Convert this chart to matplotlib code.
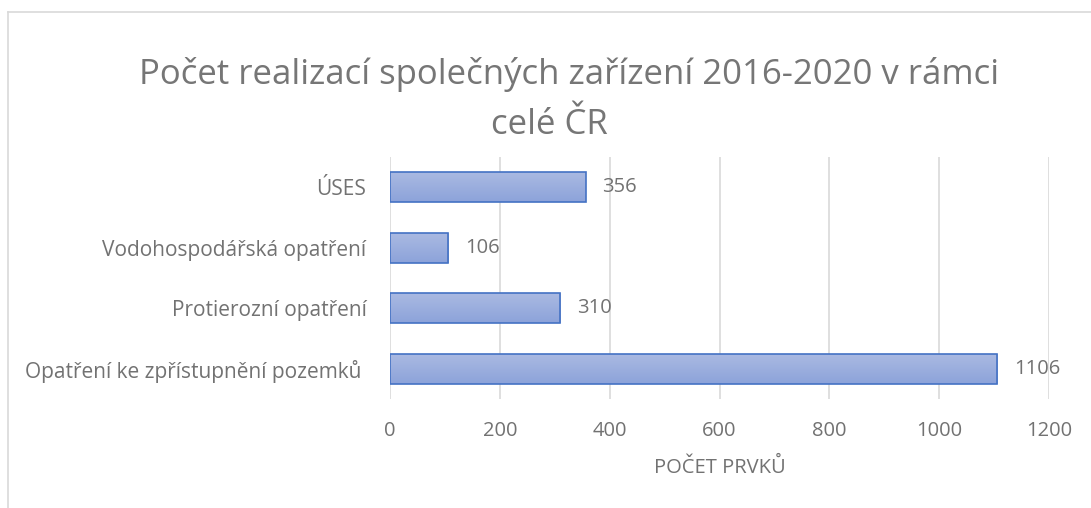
import numpy as np
import matplotlib.pyplot as plt
from matplotlib.lines import Line2D
from matplotlib.colors import LinearSegmentedColormap

plt.rcParams['font.family'] = ['Open Sans', 'DejaVu Sans']

categories = ["Opatření ke zpřístupnění pozemků ", "Protierozní opatření",
              "Vodohospodářská opatření", "ÚSES"]
values = [1106, 310, 106, 356]
xticks = [0, 200, 400, 600, 800, 1000, 1200]
title_lines = ["Počet realizací společných zařízení 2016-2020 v rámci", "celé ČR"]

text_col = "#727272"
grid_col = "#d9d9d9"

fig = plt.figure(figsize=(10.91, 5.08), dpi=100)
ax = fig.add_axes([390/1091, 1 - 399/508, 659/1091, 242/508])

y = np.arange(len(categories))
bars = ax.barh(y, values, height=0.5, color="none", edgecolor="#4472c4", linewidth=1.2, zorder=3)

# vertical gradient in each bar, lighter on top
grad = np.linspace(0, 1, 64).reshape(-1, 1)
cmap = LinearSegmentedColormap.from_list("bar", ["#8ca3da", "#abbae2"])
for b in bars:
    x0, y0 = b.get_x(), b.get_y()
    w, h = b.get_width(), b.get_height()
    im = ax.imshow(grad, extent=[x0, x0 + w, y0, y0 + h], origin="lower", cmap=cmap,
                   aspect="auto", zorder=2)
    im.set_clip_path(b)

for yi, v in zip(y, values):
    ax.annotate(str(v), (v, yi), xytext=(12, 0), textcoords="offset points",
                va="center", ha="left", fontsize=14.5, color=text_col)

ax.set_xlim(0, 1200)
ax.set_ylim(-0.5, len(categories) - 0.5)
ax.set_xticks(xticks)
ax.set_yticks(y)
ax.set_yticklabels(categories)
ax.grid(axis="x", color=grid_col, linewidth=1.2, zorder=0)
ax.tick_params(axis="both", length=0, labelcolor=text_col)
ax.tick_params(axis="x", pad=16, labelsize=14.5)
ax.tick_params(axis="y", pad=17, labelsize=15)
for s in ax.spines.values():
    s.set_visible(False)
ax.set_xlabel("POČET PRVKŮ", fontsize=14.5, color=text_col, labelpad=12)

# title, two lines as in the original
fig.text(569/1091, 1 - 75/508, title_lines[0], ha="center", va="center",
         fontsize=25, color="#767676")
fig.text(549/1091, 1 - 125/508, title_lines[1], ha="center", va="center",
         fontsize=25, color="#767676")

# chart frame (left and top edges visible)
fig.add_artist(Line2D([8/1091, 8/1091], [0, 1 - 12/508], transform=fig.transFigure,
                      color="#d9d9d9", linewidth=1.2))
fig.add_artist(Line2D([8/1091, 1], [1 - 12/508, 1 - 12/508], transform=fig.transFigure,
                      color="#d9d9d9", linewidth=1.2))

fig.savefig("out.png", dpi=100)
